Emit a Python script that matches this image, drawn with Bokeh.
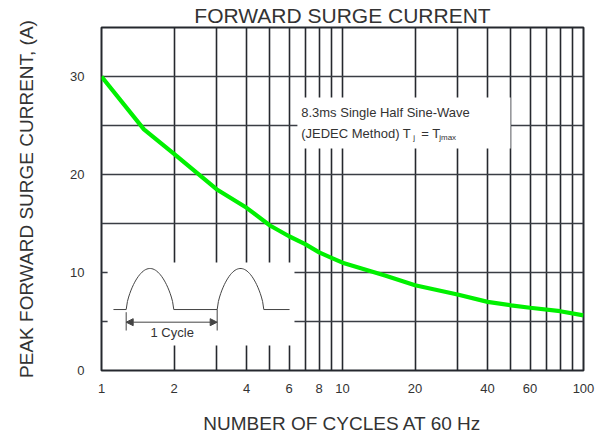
import numpy as np
from bokeh.plotting import figure
from bokeh.models import FixedTicker, Arrow, NormalHead, Range1d
from bokeh.core.properties import value
from bokeh.embed import file_html
from bokeh.resources import INLINE

# ---- data ----
cycles = [1, 1.5, 2, 3, 4, 5, 6, 7, 8, 9, 10, 15, 20, 30, 40, 50, 60, 80, 100]
current = [30, 24.6, 22.1, 18.5, 16.6, 14.8, 13.7, 12.9, 12.05, 11.5, 11.0,
           9.7, 8.7, 7.75, 7.0, 6.65, 6.4, 6.05, 5.62]

x_ticks = [1, 2, 3, 4, 5, 6, 7, 8, 9, 10, 20, 30, 40, 50, 60, 70, 80, 90, 100]
x_labels = ["1", "2", "", "4", "", "6", "", "8", "", "10", "20", "", "40", "",
            "60", "", "", "", "100"]
y_ticks = [0, 5, 10, 15, 20, 25, 30]
y_labels = ["0", "", "10", "", "20", "", "30"]

title_text = "FORWARD SURGE CURRENT"
x_title = "NUMBER OF CYCLES AT 60 Hz"
y_title = "PEAK FORWARD SURGE CURRENT, (A)"

FONT = "Liberation Sans"
TXT = "#333333"
GRID = "#25282e"

p = figure(width=600, height=439, x_axis_type="log",
           x_range=Range1d(1, 100), y_range=Range1d(0, 35),
           output_backend="svg", toolbar_location=None,
           min_border_left=101, min_border_right=17,
           min_border_top=27, min_border_bottom=69)

p.title.text = title_text
p.title.align = "center"
p.title.text_font = FONT
p.title.text_font_size = "21px"
p.title.text_font_style = "normal"
p.title.text_color = TXT
p.title.standoff = 2

p.xaxis.ticker = FixedTicker(ticks=x_ticks)
p.yaxis.ticker = FixedTicker(ticks=y_ticks)
p.xaxis.major_label_overrides = {t: l for t, l in zip(x_ticks, x_labels)}
p.yaxis.major_label_overrides = {t: l for t, l in zip(y_ticks, y_labels)}

for ax in (p.xaxis, p.yaxis):
    ax.axis_line_color = None
    ax.major_tick_line_color = None
    ax.minor_tick_line_color = None
    ax.major_label_text_font = FONT
    ax.major_label_text_font_size = "13px"
    ax.major_label_text_color = TXT
    ax.axis_label_text_font = FONT
    ax.axis_label_text_font_size = "19px"
    ax.axis_label_text_font_style = "normal"
    ax.axis_label_text_color = TXT

p.xaxis.axis_label = x_title
p.yaxis.axis_label = y_title
p.xaxis.major_label_standoff = 7
p.xaxis.axis_label_standoff = 17
p.yaxis.major_label_standoff = 11
p.yaxis.axis_label_standoff = 30

p.xgrid.grid_line_color = GRID
p.xgrid.grid_line_width = 1.6
p.ygrid.grid_line_color = "#3a3d44"
p.ygrid.grid_line_width = 1.6
p.outline_line_color = GRID
p.outline_line_width = 2
p.background_fill_color = "white"

# white boxes behind annotation and inset waveform
p.quad(left=[6.5, 1.06], right=[49.8, 6.32], bottom=[22.65, 2.55],
       top=[27.86, 11.02], fill_color="white", line_color=None)

# main curve
p.line(cycles, current, line_color="#00f000", line_width=4.2)

# ---- inset schematic: two half sine pulses ----
base_y = 6.22
peak_y = 10.41
def hump(x0, x1, n=40):
    t = np.linspace(0, 1, n)
    lx = np.log10(x0) + t * (np.log10(x1) - np.log10(x0))
    return list(10 ** lx), list(base_y + (peak_y - base_y) * np.sin(np.pi * t) ** 0.65)

h1x, h1y = hump(1.266, 1.995)
h2x, h2y = hump(3.02, 4.715)
wx = [1.121] + h1x + [3.02] + h2x + [6.03]
wy = [base_y] + h1y + [base_y] + h2y + [base_y]
p.line(wx, wy, line_color="#444444", line_width=1)

p.segment(x0=[1.266, 3.02], y0=[5.95, base_y], x1=[1.266, 3.02], y1=[4.08, 4.08],
          line_color="#444444", line_width=1)
p.add_layout(Arrow(start=NormalHead(size=7, fill_color="#444444", line_color="#444444"),
                   end=NormalHead(size=7, fill_color="#444444", line_color="#444444"),
                   x_start=1.266, y_start=4.93, x_end=3.02, y_end=4.93,
                   line_color="#444444", line_width=1))
p.text(x=[1.965], y=[3.9], text=["1 Cycle"], text_font=value(FONT),
       text_font_size="13px", text_color=TXT, text_align="center",
       text_baseline="middle")

# ---- annotation text ----
ax0 = 6.74
p.text(x=[ax0], y=[26.36], text=["8.3ms Single Half Sine-Wave"], text_font=value(FONT),
       text_font_size="13px", text_color=TXT, text_align="left", text_baseline="middle")
p.text(x=[ax0, ax0, ax0, ax0], y=[24.18] * 4,
       text=["(JEDEC Method) T", "j", "= T", "jmax"],
       x_offset=[0, 112, 120, 138], y_offset=[0, 4, 0, 4],
       text_font=value(FONT), text_font_size=["13px", "8px", "13px", "8px"],
       text_color=TXT, text_align="left", text_baseline="middle")

open("out.html", "w").write(file_html(p, INLINE))
